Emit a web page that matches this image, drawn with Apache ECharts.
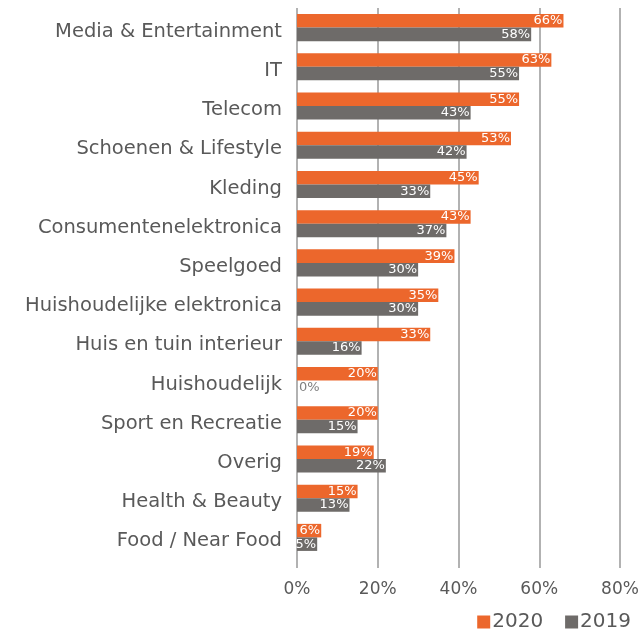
<!DOCTYPE html>
<html><head><meta charset="utf-8">
<script src="https://cdn.jsdelivr.net/npm/echarts@6/dist/echarts.min.js"></script>
<style>html,body{margin:0;padding:0;background:#fff}#c{width:642px;height:630px}</style>
</head><body><div id="c"></div>
<script>
const categories = ["Media & Entertainment","IT","Telecom","Schoenen & Lifestyle","Kleding","Consumentenelektronica","Speelgoed","Huishoudelijke elektronica","Huis en tuin interieur","Huishoudelijk","Sport en Recreatie","Overig","Health & Beauty","Food / Near Food"];
const values2020 = [66,63,55,53,45,43,39,35,33,20,20,19,15,6];
const values2019 = [58,55,43,42,33,37,30,30,16,0,15,22,13,5];
const xTicks = [0,20,40,60,80];

const FONT = "DejaVu Sans";
const chart = echarts.init(document.getElementById('c'));
const lbl = {show:true, position:'insideRight', distance:1, color:'#fff', fontFamily:FONT, fontSize:13, formatter: p => p.value + '%'};
function mk(vals){
  return vals.map(v => v === 0 ? {value:v, label:{position:'right', distance:2, color:'#7f7f7f'}} : v);
}
chart.setOption({
  animation:false,
  grid:{left:297, right:22, top:8, bottom:73, containLabel:false},
  legend:{right:6, top:607, itemWidth:13, itemHeight:13, itemGap:22, icon:'rect',
    textStyle:{fontFamily:FONT, fontSize:20, color:'#595959', padding:[0,0,0,-3]},
    data:['2020','2019']},
  xAxis:{type:'value', min:xTicks[0], max:xTicks[xTicks.length-1], interval:20,
    axisLine:{show:false},
    axisTick:{show:true, length:11, lineStyle:{color:'#999', width:1.5}},
    splitLine:{show:true, lineStyle:{color:'#999', width:1.5}},
    axisLabel:{formatter:'{value}%', margin:24, fontFamily:FONT, fontSize:17, color:'#595959'}},
  yAxis:{type:'category', data:categories, inverse:true,
    axisLine:{show:false}, axisTick:{show:false},
    axisLabel:{margin:15, formatter: v => '{a|' + v + '}',
      rich:{a:{fontFamily:FONT, fontSize:19.5, color:'#595959', padding:[8,0,0,0]}}}},
  series:[
    {name:'2020', type:'bar', data:mk(values2020), barGap:'0%', barCategoryGap:'31%',
      itemStyle:{color:'#EC672C'}, label:lbl},
    {name:'2019', type:'bar', data:mk(values2019),
      itemStyle:{color:'#6E6B69'}, label:lbl}
  ]
});
</script></body></html>
